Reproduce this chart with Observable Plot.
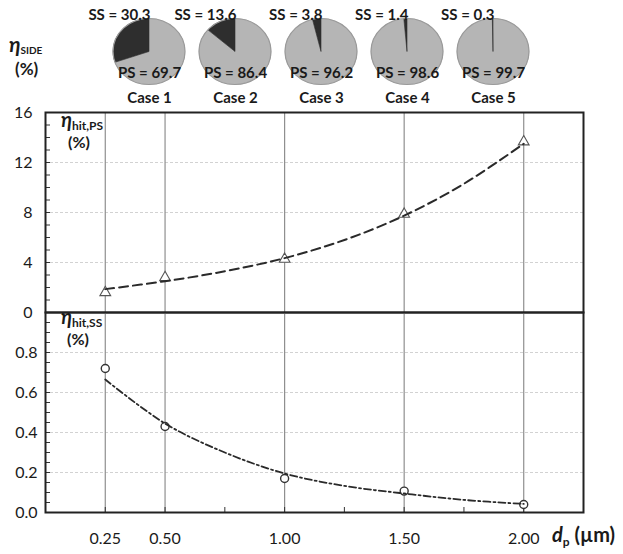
<!DOCTYPE html>
<html><head><meta charset="utf-8">
<script src="https://cdn.jsdelivr.net/npm/d3@7"></script>
<script src="https://cdn.jsdelivr.net/npm/@observablehq/plot@0.6"></script>
<style>
body{margin:0;background:#fff;}
#wrap{position:relative;width:623px;height:554px;overflow:hidden;font-family:Lato,"Open Sans",sans-serif;color:#1a1a1a;background:#fff;}
#wrap svg{position:absolute;left:0;}
</style></head><body><div id="wrap"></div>
<script>
// ---- data ----
const cases = ["Case 1", "Case 2", "Case 3", "Case 4", "Case 5"];
const dp = [0.25, 0.50, 1.00, 1.50, 2.00];
const dpTickLabels = ["0.25", "0.50", "1.00", "1.50", "2.00"];
const dpMinorTicks = [0.25, 0.5, 0.75, 1.0, 1.25, 1.5, 1.75, 2.0];
const ssShare = [30.3, 13.6, 3.8, 1.4, 0.3];
const psShare = [69.7, 86.4, 96.2, 98.6, 99.7];
const hitPS = [1.6, 2.8, 4.27, 7.87, 13.66];
const hitSS = [0.72, 0.43, 0.17, 0.107, 0.04];
const fitX = [0.25, 0.5, 0.75, 1.0, 1.25, 1.5, 1.75, 2.0];
const fitPS = [1.87, 2.5, 3.3, 4.35, 5.8, 7.75, 10.3, 13.5];
const fitSS = [0.665, 0.445, 0.30, 0.195, 0.133, 0.095, 0.063, 0.043];
const psTicks = [0, 4, 8, 12, 16];
const psGrid = [4, 8, 12];
const psMinor = [0,1,2,3,4,5,6,7,8,9,10,11,12,13,14,15,16];
const ssTicks = [0, 0.2, 0.4, 0.6, 0.8];
const ssGrid = [0.2, 0.4, 0.6, 0.8];
const ssMinor = [0,0.05,0.1,0.15,0.2,0.25,0.3,0.35,0.4,0.45,0.5,0.55,0.6,0.65,0.7,0.75,0.8,0.85,0.9,0.95,1.0];

const pieRows = cases.map((c, i) => ({c, ss: ssShare[i], ps: psShare[i]}));
const psRows = dp.map((x, i) => ({x, y: hitPS[i]}));
const ssRows = dp.map((x, i) => ({x, y: hitSS[i]}));
const fitPSRows = fitX.map((x, i) => ({x, y: fitPS[i]}));
const fitSSRows = fitX.map((x, i) => ({x, y: fitSS[i]}));

const FONT = "Lato, 'Open Sans', sans-serif";
const baseStyle = {background: "transparent", fontFamily: FONT, fontSize: "16px", color: "#1a1a1a", overflow: "visible"};
const wrap = document.getElementById("wrap");

// ---- pies ----
const pieChart = Plot.plot({
  width: 623, height: 106, margin: 0,
  x: {type: "point", domain: cases, range: [104, 538], axis: null, label: null},
  style: baseStyle,
  marks: [
    (index, scales) => {
      const g = d3.create("svg:g");
      const R = 33;
      const arc = d3.arc().innerRadius(0).outerRadius(R);
      const pie = d3.pie().sort(null).value(d => d.v);
      for (const r of pieRows) {
        const gg = g.append("g").attr("transform", `translate(${scales.x(r.c)},51.5) scale(1.09,1)`);
        gg.selectAll("path")
          .data(pie([{k: "PS", v: r.ps}, {k: "SS", v: r.ss}]))
          .join("path")
          .attr("d", arc)
          .attr("fill", d => d.data.k === "PS" ? "#b5b5b5" : "#2e2e2e")
          .attr("stroke", d => d.data.k === "PS" ? "#b5b5b5" : "#2e2e2e")
          .attr("stroke-width", 0.6)
          .attr("vector-effect", "non-scaling-stroke");
        gg.append("circle").attr("r", R).attr("fill", "none")
          .attr("stroke", "#9a9a9a").attr("stroke-width", 1.2)
          .attr("vector-effect", "non-scaling-stroke");
      }
      return g.node();
    },
    Plot.text(pieRows, {x: "c", text: d => `SS = ${d.ss}`, frameAnchor: "top", dy: 19, lineAnchor: "bottom", textAnchor: "end", dx: 1, fontWeight: 700, fontSize: 15}),
    Plot.text(pieRows, {x: "c", text: d => `PS = ${d.ps}`, frameAnchor: "top", dy: 77, lineAnchor: "bottom", fontWeight: 700, fontSize: 15}),
    Plot.text(pieRows, {x: "c", text: "c", frameAnchor: "top", dy: 102, lineAnchor: "bottom", fontWeight: 700, fontSize: 15})
  ]
});
pieChart.style.top = "0px";
wrap.appendChild(pieChart);

// ---- upper panel: eta hit,PS ----
const upper = Plot.plot({
  width: 623, height: 213, marginTop: 12, marginBottom: 1, marginLeft: 45, marginRight: 40,
  x: {domain: [0, 2.25], axis: null, label: null},
  y: {domain: [0, 16], label: null},
  style: baseStyle,
  marks: [
    Plot.ruleY(psGrid, {stroke: "#d2d2d2", strokeDasharray: "3,2"}),
    Plot.ruleX(dp, {stroke: "#8f8f8f", strokeWidth: 1.2}),
    Plot.axisY(psMinor, {tickSize: -5, fill: "none", stroke: "#333", label: null}),
    Plot.axisY(psTicks, {tickSize: 0, tickPadding: 13, fontSize: 16, label: null}),
    Plot.dot(psRows, {x: "x", y: "y", symbol: "triangle", r: 4, stroke: "#555", strokeWidth: 1.1, fill: "white"}),
    Plot.line(fitPSRows, {x: "x", y: "y", curve: "catmull-rom", stroke: "#2a2a2a", strokeWidth: 2, strokeDasharray: "9,5"}),
    Plot.frame({stroke: "#222", strokeWidth: 2})
  ]
});
upper.style.top = "100px";
wrap.appendChild(upper);

// ---- lower panel: eta hit,SS ----
const lower = Plot.plot({
  width: 623, height: 244, marginTop: 2, marginBottom: 42, marginLeft: 45, marginRight: 40,
  x: {domain: [0, 2.25], label: null},
  y: {domain: [0, 1], label: null},
  style: baseStyle,
  marks: [
    Plot.ruleY(ssGrid, {stroke: "#d2d2d2", strokeDasharray: "3,2"}),
    Plot.ruleX(dp, {stroke: "#8f8f8f", strokeWidth: 1.2}),
    Plot.axisY(ssMinor, {tickSize: -5, fill: "none", stroke: "#333", label: null}),
    Plot.axisY(ssTicks, {tickSize: 0, tickPadding: 8, fontSize: 16, tickFormat: d => d.toFixed(1), label: null}),
    Plot.axisX(dpMinorTicks, {anchor: "bottom", tickSize: -5, fill: "none", stroke: "#333", label: null}),
    Plot.axisX(dp, {anchor: "bottom", tickSize: 0, tickPadding: 20, fontSize: 16, tickFormat: d => dpTickLabels[dp.indexOf(d)], label: null}),
    Plot.dot(ssRows, {x: "x", y: "y", r: 4, stroke: "#333", strokeWidth: 1.4, fill: "white"}),
    Plot.line(fitSSRows, {x: "x", y: "y", curve: "catmull-rom", stroke: "#2a2a2a", strokeWidth: 1.8, strokeDasharray: "7,3,2,3"}),
    Plot.frame({stroke: "#222", strokeWidth: 2})
  ]
});
lower.style.top = "310px";
wrap.appendChild(lower);

// ---- rich text labels (eta symbols, axis title) ----
const ov = d3.create("svg").attr("width", 623).attr("height", 554)
  .style("top", "0px").style("font-family", FONT).style("fill", "#1a1a1a").style("font-weight", 700);
function eta(x, y, sub, size, subSize, shift) {
  const t = ov.append("text").attr("x", x).attr("y", y);
  t.append("tspan").text("η").attr("font-style", "italic").attr("font-size", size);
  t.append("tspan").text(sub).attr("font-size", subSize).attr("dy", shift);
}
eta(9, 52, "SIDE", 21, 10, 2);
ov.append("text").attr("x", 15).attr("y", 75).attr("font-size", 17).text("(%)");
eta(61, 127, "hit,PS", 20, 12, 3);
ov.append("text").attr("x", 68).attr("y", 148).attr("font-size", 16).text("(%)");
eta(61, 324, "hit,SS", 20, 12, 3);
ov.append("text").attr("x", 67).attr("y", 345).attr("font-size", 16).text("(%)");
const xt = ov.append("text").attr("x", 552).attr("y", 542).attr("font-size", 20);
xt.append("tspan").text("d").attr("font-style", "italic");
xt.append("tspan").text("p").attr("font-size", 12).attr("dy", 4);
xt.append("tspan").text(" (µm)").attr("dy", -4);
wrap.appendChild(ov.node());
</script></body></html>
